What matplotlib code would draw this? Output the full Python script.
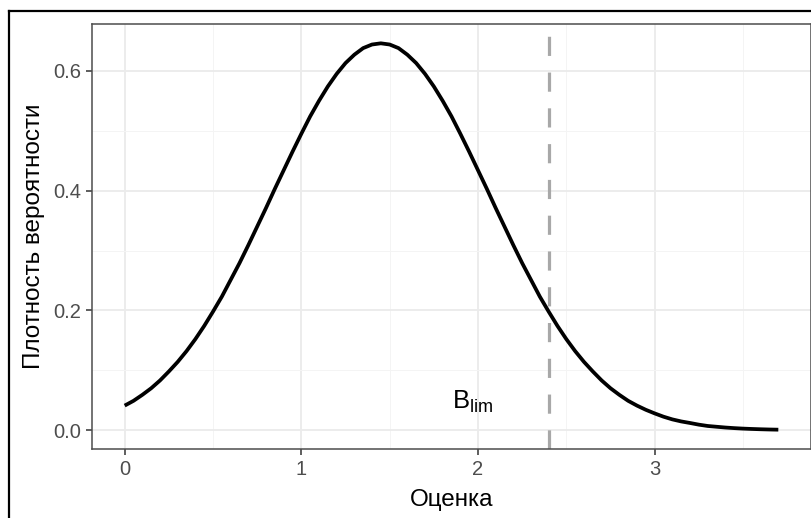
import matplotlib
matplotlib.use("Agg")
import matplotlib.pyplot as plt
from matplotlib.lines import Line2D

plt.rcParams['font.family'] = ['Liberation Sans', 'DejaVu Sans']

x_vals = [0.00, 0.05, 0.10, 0.15, 0.20, 0.25, 0.30, 0.35, 0.40, 0.45,
          0.50, 0.55, 0.60, 0.65, 0.70, 0.75, 0.80, 0.85, 0.90, 0.95,
          1.00, 1.05, 1.10, 1.15, 1.20, 1.25, 1.30, 1.35, 1.40, 1.45,
          1.50, 1.55, 1.60, 1.65, 1.70, 1.75, 1.80, 1.85, 1.90, 1.95,
          2.00, 2.05, 2.10, 2.15, 2.20, 2.25, 2.30, 2.35, 2.40, 2.45,
          2.50, 2.55, 2.60, 2.65, 2.70, 2.75, 2.80, 2.85, 2.90, 2.95,
          3.00, 3.05, 3.10, 3.15, 3.20, 3.25, 3.30, 3.35, 3.40, 3.45,
          3.50, 3.55, 3.60, 3.65, 3.70]
density = [0.041, 0.049, 0.059, 0.070, 0.083, 0.098, 0.114, 0.132, 0.152, 0.174,
           0.198, 0.223, 0.251, 0.279, 0.309, 0.340, 0.371, 0.403, 0.434, 0.465,
           0.495, 0.524, 0.550, 0.574, 0.595, 0.613, 0.627, 0.638, 0.644, 0.646,
           0.644, 0.638, 0.627, 0.613, 0.595, 0.574, 0.550, 0.524, 0.495, 0.465,
           0.434, 0.403, 0.371, 0.340, 0.309, 0.279, 0.251, 0.223, 0.198, 0.174,
           0.152, 0.132, 0.114, 0.098, 0.083, 0.070, 0.059, 0.049, 0.041, 0.034,
           0.028, 0.0225, 0.018, 0.0146, 0.012, 0.0092, 0.007, 0.0057, 0.0044, 0.0034,
           0.0026, 0.0020, 0.0015, 0.0011, 0.0008]
blim = 2.4
blim_label_x = 1.97
blim_label_y = 0.047
x_ticks = [0, 1, 2, 3]
y_ticks = [0.0, 0.2, 0.4, 0.6]
x_label = "Оценка"
y_label = "Плотность вероятности"

W, H = 812, 518
fig = plt.figure(figsize=(W / 100, H / 100), dpi=100)
ax = fig.add_axes([92 / W, 1 - 449 / H, (811 - 92) / W, (449 - 24) / H])

ax.plot(x_vals, density, color='black', lw=2.7, solid_joinstyle='round',
        solid_capstyle='butt', zorder=3)
ax.axvline(blim, color='#A8A8A8', lw=2.3, ls=(0, (6, 5.2)), zorder=2)
ax.text(blim_label_x, blim_label_y, r"B$_{\mathregular{lim}}$", fontsize=18.5,
        ha='center', va='center', color='black')

xr = max(x_vals) - min(x_vals)
yr = max(density) - min(density)
ax.set_xlim(min(x_vals) - 0.05 * xr, max(x_vals) + 0.05 * xr)
ax.set_ylim(min(density) - 0.05 * yr, max(density) + 0.05 * yr)

ax.set_xticks(x_ticks)
ax.set_xticklabels([str(t) for t in x_ticks])
ax.set_yticks(y_ticks)
ax.set_yticklabels([f"{t:.1f}" for t in y_ticks])
ax.set_xticks([0.5, 1.5, 2.5, 3.5], minor=True)
ax.set_yticks([0.1, 0.3, 0.5], minor=True)

ax.grid(True, which='major', color='#EBEBEB', lw=1.3, zorder=0)
ax.grid(True, which='minor', color='#F4F4F4', lw=0.7, zorder=0)
ax.set_axisbelow(True)

for s in ax.spines.values():
    s.set_color('#4D4D4D')
    s.set_linewidth(1.1)

ax.tick_params(axis='both', which='major', length=4, width=1.1, color='#333333',
               labelsize=14.5, labelcolor='#4D4D4D')
ax.tick_params(axis='x', which='major', pad=3.8)
ax.tick_params(axis='y', which='major', pad=3.5)
ax.tick_params(axis='both', which='minor', length=0)

ax.set_xlabel(x_label, fontsize=17.5, color='black', labelpad=7.5)
ax.set_ylabel(y_label, fontsize=17.5, color='black', labelpad=6)

# outer frame lines (top and left) as in the reference screenshot
fig.add_artist(Line2D([9 / W, 9 / W], [0, 1 - 11 / H], transform=fig.transFigure,
                      color='black', lw=1.6))
fig.add_artist(Line2D([9 / W, 1], [1 - 11 / H, 1 - 11 / H], transform=fig.transFigure,
                      color='black', lw=1.6))

fig.savefig("out.png", dpi=100)
